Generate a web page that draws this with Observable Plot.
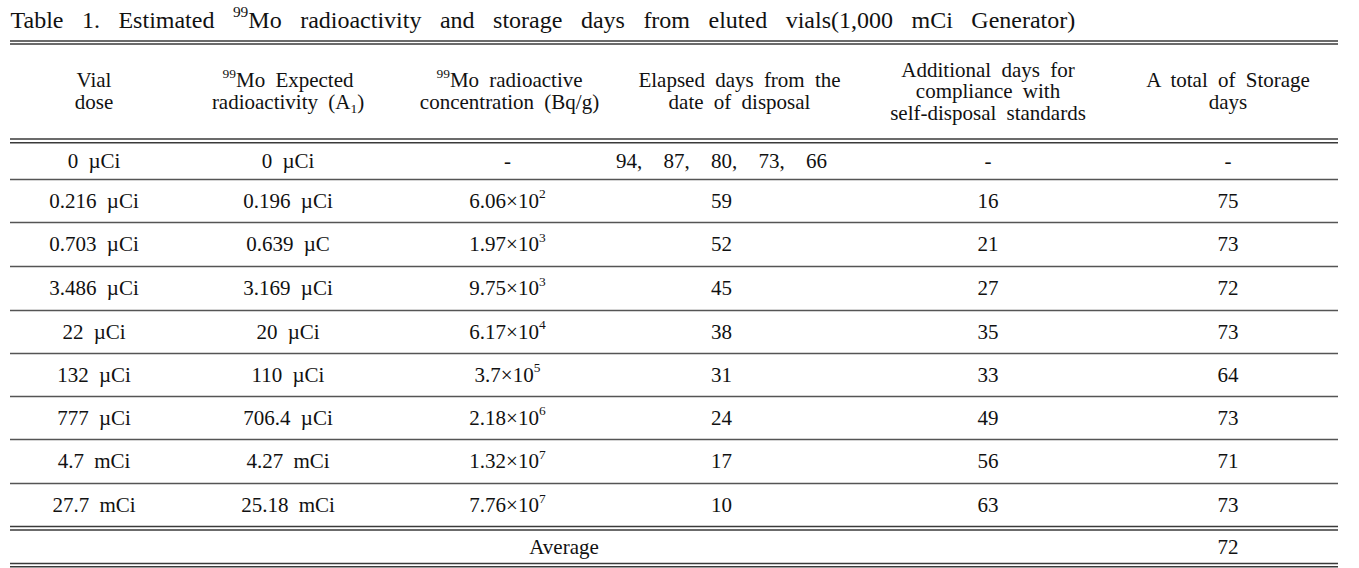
<!DOCTYPE html>
<html>
<head>
<meta charset="utf-8">
<script src="https://cdn.jsdelivr.net/npm/d3@7"></script>
<script src="https://cdn.jsdelivr.net/npm/@observablehq/plot@0.6"></script>
<style>
  html, body { margin: 0; padding: 0; background: #fff; }
  #chart svg text { word-spacing: 5px; }
  #chart svg text.title-text { word-spacing: 12.5px; }
  #chart svg text.wide-text { word-spacing: 16px; }
</style>
</head>
<body>
<div id="chart"></div>
<script>
// ---- Data (cell contents) ----
const titleText = "Table 1. Estimated {99}Mo radioactivity and storage days from eluted vials(1,000 mCi Generator)";
const headers = [
  ["Vial", "dose"],
  ["{99}Mo Expected", "radioactivity (A{_1})"],
  ["{99}Mo radioactive", "concentration (Bq/g)"],
  ["Elapsed days from the", "date of disposal"],
  ["Additional days for", "compliance with", "self-disposal standards"],
  ["A total of Storage", "days"]
];
const vialDose = ["0 µCi", "0.216 µCi", "0.703 µCi", "3.486 µCi", "22 µCi", "132 µCi", "777 µCi", "4.7 mCi", "27.7 mCi"];
const expectedActivity = ["0 µCi", "0.196 µCi", "0.639 µC", "3.169 µCi", "20 µCi", "110 µCi", "706.4 µCi", "4.27 mCi", "25.18 mCi"];
const concentration = ["-", "6.06×10{2}", "1.97×10{3}", "9.75×10{3}", "6.17×10{4}", "3.7×10{5}", "2.18×10{6}", "1.32×10{7}", "7.76×10{7}"];
const elapsedDays = ["94, 87, 80, 73, 66", "59", "52", "45", "38", "31", "24", "17", "10"];
const additionalDays = ["-", "16", "21", "27", "35", "33", "49", "56", "63"];
const totalDays = ["-", "75", "73", "72", "73", "64", "73", "71", "73"];
const averageLabel = "Average";
const averageTotal = "72";

// ---- Layout (page geometry, not data) ----
const W = 1359, H = 568;
const colEdges = [10, 177, 398, 620, 858, 1117, 1338];
const dataShift = [0, 0, -2, -18, 0, 0];   // body cells sit slightly off the header centre
const rowEdges = [142, 179, 222, 266, 310, 353, 396, 439, 483, 527];
const avgRow = [529, 564];
const header = {top: 42, bottom: 140, lineH: 21.5};
const font = '"Liberation Serif", "Times New Roman", Times, serif';
const ink = "#111";
const lineColor = "#3a3a3a";
const bodySize = 21, titleSize = 24;

const colMid = c => (colEdges[c] + colEdges[c + 1]) / 2;
const rowMid = r => (rowEdges[r] + rowEdges[r + 1]) / 2;

const columns = [vialDose, expectedActivity, concentration, elapsedDays, additionalDays, totalDays];
const cells = columns.flatMap((col, c) => col.map((t, r) => ({c, r, text: t})));
const headerCells = headers.flatMap((lines, c) =>
  lines.map((t, k) => ({c, k, n: lines.length, text: t})));
const headerMid = (header.top + header.bottom) / 2;

const singleRules = rowEdges.slice(1, -1);
const doubleRules = [40.5, 43.5, 138.5, 142.3, 526, 529.5, 563, 566.3];

const plot = Plot.plot({
  width: W,
  height: H,
  margin: 0,
  x: {type: "identity", axis: null},
  y: {type: "identity", axis: null},
  marks: [
    Plot.ruleY(doubleRules, {y: d => d, x1: colEdges[0], x2: colEdges[colEdges.length - 1], stroke: lineColor, strokeWidth: 1.4}),
    Plot.ruleY(singleRules, {y: d => d, x1: colEdges[0], x2: colEdges[colEdges.length - 1], stroke: "#555", strokeWidth: 1.5}),
    Plot.text([titleText], {x: colEdges[0], y: 20, text: d => d, textAnchor: "start", fontSize: titleSize, fontFamily: font, fill: ink}),
    Plot.text(headerCells, {
      x: d => colMid(d.c),
      y: d => headerMid + (d.k - (d.n - 1) / 2) * header.lineH,
      text: "text", fontSize: bodySize, fontFamily: font, fill: ink
    }),
    Plot.text(cells, {x: d => colMid(d.c) + dataShift[d.c], y: d => rowMid(d.r), text: "text", fontSize: bodySize, fontFamily: font, fill: ink}),
    Plot.text([averageLabel], {x: (colEdges[0] + colEdges[5]) / 2, y: (avgRow[0] + avgRow[1]) / 2, text: d => d, fontSize: bodySize, fontFamily: font, fill: ink}),
    Plot.text([averageTotal], {x: colMid(5), y: (avgRow[0] + avgRow[1]) / 2, text: d => d, fontSize: bodySize, fontFamily: font, fill: ink})
  ]
});

// Turn {99} markers into superscripts and {_1} into subscripts (real text tspans)
d3.select(plot).selectAll("text").each(function () {
  const el = this;
  const s = el.textContent;
  if (s.startsWith("Table 1.")) el.setAttribute("class", "title-text");
  if (s.includes(", ")) el.setAttribute("class", "wide-text");
  if (!s.includes("{")) return;
  const fs = parseFloat(el.getAttribute("font-size") || el.parentNode.getAttribute("font-size") || bodySize);
  const parts = [];
  const re = /\{(_?)([^}]*)\}/g;
  let last = 0, m;
  while ((m = re.exec(s))) {
    if (m.index > last) parts.push({t: s.slice(last, m.index), kind: "n"});
    parts.push({t: m[2], kind: m[1] ? "sub" : "sup"});
    last = re.lastIndex;
  }
  if (last < s.length) parts.push({t: s.slice(last), kind: "n"});
  while (el.firstChild) el.removeChild(el.firstChild);
  let shift = 0;
  const ns = "http://www.w3.org/2000/svg";
  for (const p of parts) {
    const ts = document.createElementNS(ns, "tspan");
    let target = 0;
    if (p.kind === "sup") { target = -0.45 * fs; ts.setAttribute("font-size", 0.64 * fs); }
    if (p.kind === "sub") { target = 0.2 * fs; ts.setAttribute("font-size", 0.64 * fs); }
    const dy = target - shift;
    if (dy !== 0) ts.setAttribute("dy", dy);
    shift = target;
    ts.textContent = p.t;
    el.appendChild(ts);
  }
});

document.getElementById("chart").appendChild(plot);
</script>
</body>
</html>
